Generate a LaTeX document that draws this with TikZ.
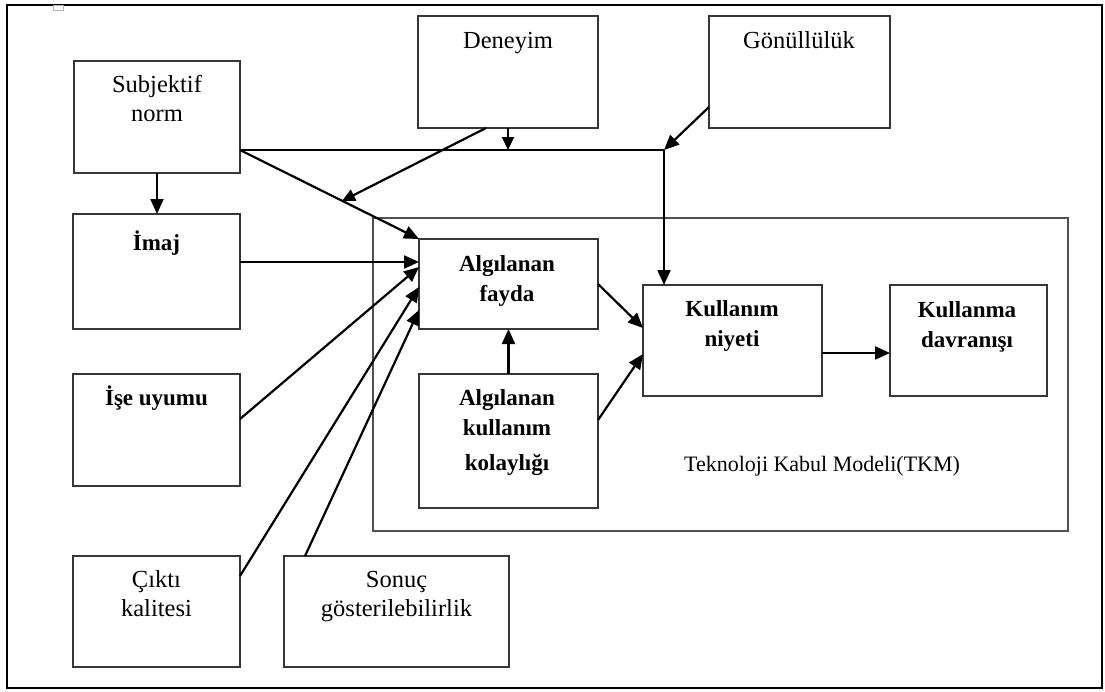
\documentclass[tikz,border=0pt]{standalone}
\usepackage{fontspec}
\setmainfont{Liberation Serif}
\usetikzlibrary{arrows.meta}
\definecolor{edgegray}{RGB}{55,55,55}
\definecolor{framegray}{RGB}{80,80,80}
\begin{document}
\begin{tikzpicture}[x=1pt,y=-1pt,
  box/.style={draw=edgegray,line width=1.5pt,inner sep=0pt,outer sep=0pt},
  txt/.style={anchor=base,inner sep=0pt,align=center,
    font=\fontsize{24.5}{29}\selectfont},
  btxt/.style={anchor=base,inner sep=0pt,align=center,
    font=\fontsize{23}{30}\selectfont\bfseries},
  link/.style={line width=2.2pt,-{Triangle[length=15pt,width=13pt]}},
  plain/.style={line width=1.6pt}]

% canvas and outer frame
\fill[white] (0,0) rectangle (1105,691);
\useasboundingbox (0,0) rectangle (1105,691);
\draw[line width=2pt] (7,5) rectangle (1102,688);
\draw[gray!60,line width=0.8pt] (53,5) rectangle (63,10);

% technology acceptance model frame
\node[draw=framegray,line width=2pt,inner sep=0pt,outer sep=0pt,
  minimum width=695pt,minimum height=313pt] (tkm) at (720.5,374.5) {};
\node[anchor=base,inner sep=0pt,font=\fontsize{22}{26}\selectfont]
  (tkmlbl) at (822,471) {Teknoloji Kabul Modeli(TKM)};

% boxes
\node[box,minimum width=166pt,minimum height=112pt] (sn)    at (157,117) {};
\node[box,minimum width=180pt,minimum height=112pt] (den)   at (508,72) {};
\node[box,minimum width=181pt,minimum height=112pt] (gon)   at (799.5,72) {};
\node[box,minimum width=167pt,minimum height=115pt] (imaj)  at (156.5,271.5) {};
\node[box,minimum width=167pt,minimum height=112pt] (ise)   at (156.5,430) {};
\node[box,minimum width=167pt,minimum height=111pt] (cikti) at (156.5,611.5) {};
\node[box,minimum width=225pt,minimum height=111pt] (sonuc) at (396.5,611.5) {};
\node[box,minimum width=179pt,minimum height=90pt]  (af)    at (508.5,284) {};
\node[box,minimum width=179pt,minimum height=134pt] (akk)   at (508.5,441) {};
\node[box,minimum width=179pt,minimum height=111pt] (kn)    at (732.5,340.5) {};
\node[box,minimum width=157pt,minimum height=111pt] (kd)    at (968.5,340.5) {};

% labels (base anchor sits on the last line)
\node[txt]  (snl)    at (157,121)   {Subjektif\\norm};
\node[txt]  (denl)   at (508,48)    {Deneyim};
\node[txt]  (gonl)   at (799,48)    {Gönüllülük};
\node[btxt] (imajl)  at (156.5,250) {İmaj};
\node[btxt] (isel)   at (156.5,405) {İşe uyumu};
\node[txt]  (ciktil) at (156.5,616) {Çıktı\\kalitesi};
\node[txt]  (sonucl) at (396.5,616) {Sonuç\\gösterilebilirlik};
\node[btxt] (afl)    at (507,301)   {Algılanan\\fayda};
\node[btxt] (akkl)   at (507,470)   {Algılanan\\kullanım\\[5pt]kolaylığı};
\node[btxt] (knl)    at (732,346)   {Kullanım\\niyeti};
\node[btxt] (kdl)    at (967,347)   {Kullanma\\davranışı};

% junctions on the moderator line
\coordinate (j1) at (664,150);
\coordinate (j2) at (508,150);
\coordinate (j3) at (342,201);

% moderator line from subjective norm to intention
\draw[plain] ([yshift=23pt]sn.south east) -- (j2) -- (j1);
\draw[link] (j1) -- (j1 |- kn.north);
\draw[link,-{Triangle[length=13pt,width=12pt]}] (den.south) -- (j2);
\draw[link,-{Triangle[length=13pt,width=12pt]}] ([xshift=-22pt]den.south) -- (j3);
\draw[link] ([yshift=-35pt]gon.west) -- (j1);

% external variables
\draw[link] (sn.south) -- (sn.south |- imaj.north);
\draw[link] ([yshift=23pt]sn.south east) -- (af.north west);
\draw[link] ([yshift=9.5pt]imaj.east) -- ([yshift=22pt]af.west);
\draw[link] ([yshift=11pt]ise.east) -- ([yshift=17pt]af.west);
\draw[link] ([yshift=35.5pt]cikti.east) -- ([yshift=-3pt]af.west);
\draw[link] ([xshift=-91.5pt]sonuc.north) -- ([yshift=-26pt]af.west);

% core model
\draw[link] (akk.north) -- (af.south);
\draw[link] (af.east) -- ([yshift=12.5pt]kn.west);
\draw[link] ([yshift=21pt]akk.east) -- ([yshift=-13.5pt]kn.west);
\draw[link] ([yshift=-12.5pt]kn.east) -- ([yshift=-12.5pt]kd.west);
\end{tikzpicture}
\end{document}
